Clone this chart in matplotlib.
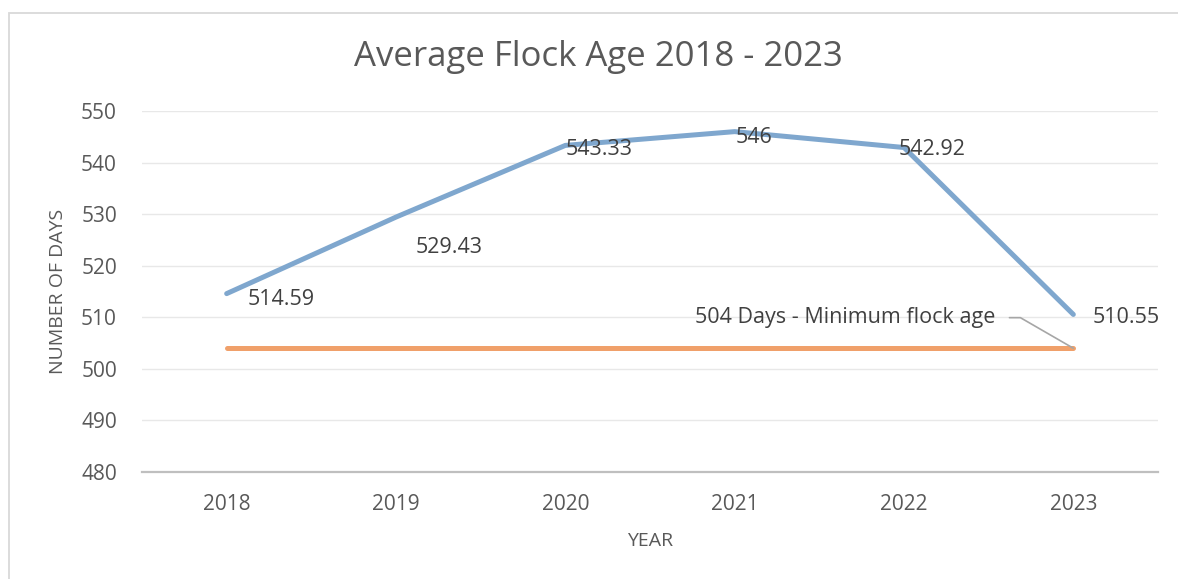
import matplotlib.pyplot as plt
from matplotlib.patches import Rectangle

### Data
years = ["2018", "2019", "2020", "2021", "2022", "2023"]
avg_age = [514.59, 529.43, 543.33, 546, 542.92, 510.55]
min_age = [504, 504, 504, 504, 504, 504]
label_text = ["514.59", "529.43", "543.33", "546", "542.92", "510.55"]
# offset (points) of each data label relative to its point
label_offsets = [(15, -4), (14, -22), (0, -3), (1, -4), (-4, -1.5), (14, -2)]

txt = "#595959"
plt.rcParams['font.family'] = ['Open Sans', 'DejaVu Sans']

fig = plt.figure(figsize=(11.78, 5.79), dpi=100)
ax = fig.add_axes([142/1178, 1 - 472/579, 1016/1178, 361/579])

x = list(range(len(years)))
ax.plot(x, avg_age, color="#7FA7CE", lw=3.6, solid_capstyle="round", zorder=3)
ax.plot(x, min_age, color="#F0A06A", lw=3.6, solid_capstyle="round", zorder=3)

for i, (v, t) in enumerate(zip(avg_age, label_text)):
    ax.annotate(t, (i, v), xytext=label_offsets[i], textcoords="offset points",
                ha="left", va="center", fontsize=15.5, color="#404040")

# label of the minimum line with leader
ax.annotate("504 Days - Minimum flock age", xy=(5, 504), xytext=(-56, 22),
            textcoords="offset points", ha="right", va="center",
            fontsize=15.5, color="#404040",
            arrowprops=dict(arrowstyle="-", color="#A6A6A6", lw=1.2,
                            connectionstyle="angle,angleA=0,angleB=150,rad=0",
                            shrinkA=8, shrinkB=0))

ax.set_xlim(-0.5, 5.5)
ax.set_ylim(480, 550)
ax.set_yticks(range(480, 551, 10))
ax.set_xticks(x)
ax.set_xticklabels(years)
ax.grid(axis="y", color="#E8E8E8", lw=1)
ax.set_axisbelow(True)
for s in ["top", "right", "left"]:
    ax.spines[s].set_visible(False)
ax.spines["bottom"].set_color("#BFBFBF")
ax.spines["bottom"].set_linewidth(1.6)
ax.tick_params(axis="both", length=0, labelsize=15, labelcolor=txt)
ax.tick_params(axis="y", pad=18)
ax.tick_params(axis="x", pad=16)

ax.set_xlabel("YEAR", fontsize=14, color=txt, labelpad=12)
ax.set_ylabel("NUMBER OF DAYS", fontsize=14, color=txt, labelpad=10)

fig.text(598/1178, 1 - 57/579, "Average Flock Age 2018 - 2023", ha="center",
         va="center", fontsize=25, color=txt)

# chart frame
fig.patches.append(Rectangle((9/1178, -0.1), 1.2, 1.1 - 13/579, transform=fig.transFigure,
                             fill=False, edgecolor="#D9D9D9", lw=1.3))

fig.savefig("out.png", dpi=100)
